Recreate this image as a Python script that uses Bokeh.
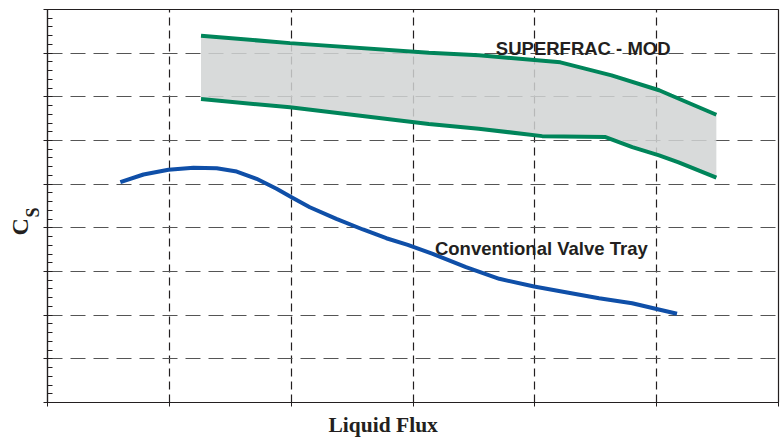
from bokeh.plotting import figure
from bokeh.models import FixedTicker, Title
from bokeh.core.properties import value
from bokeh.embed import file_html
from bokeh.resources import INLINE

# SUPERFRAC - MOD band (upper and lower edges)
sf_upper_x = [1.26, 1.99, 3.13, 3.54, 4.21, 4.63, 5.02, 5.12, 5.49]
sf_upper_y = [8.40, 8.23, 8.01, 7.95, 7.79, 7.49, 7.15, 7.03, 6.59]
sf_lower_x = [1.26, 1.99, 3.13, 3.54, 4.06, 4.58, 4.80, 5.02, 5.18, 5.49]
sf_lower_y = [6.95, 6.76, 6.38, 6.27, 6.10, 6.08, 5.85, 5.66, 5.50, 5.15]

# Conventional Valve Tray
cv_x = [0.598, 0.788, 0.993, 1.198, 1.389, 1.553, 1.716, 1.880, 2.003, 2.153, 2.371,
        2.589, 2.781, 2.957, 3.162, 3.435, 3.708, 3.994, 4.254, 4.527, 4.799, 4.991, 5.167]
cv_y = [5.045, 5.221, 5.329, 5.374, 5.365, 5.290, 5.123, 4.894, 4.702, 4.472, 4.207,
        3.962, 3.762, 3.611, 3.405, 3.098, 2.833, 2.656, 2.526, 2.388, 2.274, 2.146, 2.031]

x_ticks = [0, 1, 2, 3, 4, 5, 6]
y_ticks = [0, 1, 2, 3, 4, 5, 6, 7, 8, 9]

INK = "#231f20"

p = figure(width=783, height=439, frame_width=731, frame_height=393,
           x_range=(0, 6), y_range=(0, 9),
           output_backend="svg", toolbar_location=None,
           min_border_left=47, min_border_top=9, min_border_right=5, min_border_bottom=37)

p.background_fill_color = "white"
p.border_fill_color = "white"
p.outline_line_color = INK
p.outline_line_width = 1.2

# axes
p.xaxis.ticker = FixedTicker(ticks=x_ticks, minor_ticks=[])
p.yaxis.ticker = FixedTicker(ticks=y_ticks,
                             minor_ticks=[i / 5 for i in range(0, 46)])
for ax in (p.xaxis[0], p.yaxis[0]):
    ax.axis_line_color = INK
    ax.axis_line_width = 1.2
    ax.major_tick_line_color = INK
    ax.major_label_text_font_size = "0px"
    ax.major_label_text_color = None
    ax.major_label_standoff = 0
    ax.major_tick_in = 0
    ax.major_tick_out = 4
p.xaxis.minor_tick_line_color = None
p.yaxis.minor_tick_line_color = INK
p.yaxis.minor_tick_in = 5
p.yaxis.minor_tick_out = 0

# y axis title "C" with subscript "S" (reads bottom to top)
p.add_layout(Title(text="S", align="left", offset=185, standoff=2,
                   text_font="Liberation Serif", text_font_style="bold",
                   text_font_size="18px", text_color=INK), "left")
p.add_layout(Title(text="C", align="left", offset=167, standoff=-26,
                   text_font="Liberation Serif", text_font_style="bold",
                   text_font_size="24px", text_color=INK), "left")

# x axis title
p.add_layout(Title(text="Liquid Flux", align="left", offset=281, standoff=8,
                   text_font="Liberation Serif", text_font_style="bold",
                   text_font_size="21.5px", text_color=INK), "below")

# grid
p.xgrid.ticker = FixedTicker(ticks=[1, 2, 3, 4, 5])
p.ygrid.ticker = FixedTicker(ticks=[1, 2, 3, 4, 5, 6, 7, 8])
p.xgrid.grid_line_color = INK
p.xgrid.grid_line_dash = "8 5"
p.xgrid.grid_line_width = 1.2
p.ygrid.grid_line_color = "#555555"
p.ygrid.grid_line_dash = "15 8"
p.ygrid.grid_line_width = 1.2
p.xgrid.level = "underlay"
p.ygrid.level = "underlay"

# band
band_x = sf_upper_x + sf_lower_x[::-1]
band_y = sf_upper_y + sf_lower_y[::-1]
p.patch(band_x, band_y, fill_color="#D1D3D4", fill_alpha=0.85, line_color=None)
p.line(sf_upper_x, sf_upper_y, line_color="#00855A", line_width=4)
p.line(sf_lower_x, sf_lower_y, line_color="#00855A", line_width=4)

p.line(cv_x, cv_y, line_color="#0F4FA8", line_width=4, line_join="round")

# series labels
p.text(x=[3.68], y=[8.11], text=["SUPERFRAC - MOD"],
       text_font=value("Liberation Sans"), text_font_style="bold",
       text_font_size="18.5px", text_color=INK,
       text_align="left", text_baseline="alphabetic")
p.text(x=[3.18], y=[3.53], text=["Conventional Valve Tray"],
       text_font=value("Liberation Sans"), text_font_style="bold",
       text_font_size="18.5px", text_color=INK,
       text_align="left", text_baseline="alphabetic")

open("out.html", "w").write(file_html(p, INLINE))
